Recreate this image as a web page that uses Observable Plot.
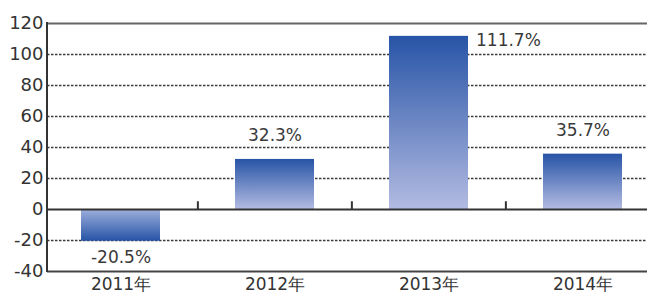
<!DOCTYPE html>
<html>
<head>
<meta charset="utf-8">
<script src="https://cdn.jsdelivr.net/npm/d3@7"></script>
<script src="https://cdn.jsdelivr.net/npm/@observablehq/plot@0.6"></script>
<style>
  html, body { margin: 0; padding: 0; background: #fff; }
  svg text { font-family: "DejaVu Sans", sans-serif; }
</style>
</head>
<body>
<div id="chart"></div>
<script>
const years = ["2011年", "2012年", "2013年", "2014年"];
const growth = [-20.5, 32.3, 111.7, 35.7];
const labels = ["-20.5%", "32.3%", "111.7%", "35.7%"];
const yTicks = [-40, -20, 0, 20, 40, 60, 80, 100, 120];
const dashedTicks = [-20, 20, 40, 60, 80, 100];

const data = years.map((y, i) => ({year: y, value: growth[i], label: labels[i]}));
const pos = data.filter(d => d.value >= 0);
const neg = data.filter(d => d.value < 0);

const defs = () => {
  const g = d3.create("svg:defs");
  const a = g.append("linearGradient").attr("id", "gpos").attr("x1", 0).attr("y1", 0).attr("x2", 0).attr("y2", 1);
  a.append("stop").attr("offset", "0%").attr("stop-color", "#2754a6");
  a.append("stop").attr("offset", "100%").attr("stop-color", "#b3bbe2");
  const b = g.append("linearGradient").attr("id", "gneg").attr("x1", 0).attr("y1", 0).attr("x2", 0).attr("y2", 1);
  b.append("stop").attr("offset", "0%").attr("stop-color", "#9eafdc");
  b.append("stop").attr("offset", "100%").attr("stop-color", "#2754a6");
  return g.node();
};

// left axis line, drawn from the y scale
const leftAxis = (index, scales, values, dimensions) => {
  const x = dimensions.marginLeft;
  return d3.create("svg:line")
    .attr("x1", x).attr("x2", x)
    .attr("y1", scales.y(120) - 1).attr("y2", scales.y(-40) + 1)
    .attr("stroke", "#333").attr("stroke-width", 2).node();
};

const step = (660 - 43) / 4;

const chart = Plot.plot({
  width: 647,
  height: 293,
  marginLeft: 47,
  marginRight: 0,
  marginTop: 23,
  marginBottom: 22,
  style: {fontFamily: "DejaVu Sans", color: "#333", background: "#fff"},
  x: {domain: years, range: [43, 660], paddingInner: 0.49, paddingOuter: 0.245, align: 0.5},
  y: {domain: [-40, 120]},
  marks: [
    defs,
    Plot.ruleY(dashedTicks, {stroke: "#3a3a3a", strokeWidth: 1.6, strokeDasharray: "2.5,1.5"}),
    Plot.ruleY([120], {stroke: "#666", strokeWidth: 2}),
    Plot.ruleY([-40], {stroke: "#444", strokeWidth: 2}),
    Plot.barY(pos, {x: "year", y: "value", fill: "url(#gpos)"}),
    Plot.barY(neg, {x: "year", y: "value", fill: "url(#gneg)"}),
    Plot.ruleY([0], {stroke: "#333", strokeWidth: 2}),
    Plot.ruleX(years.slice(1), {x: d => d, y1: 0, y2: 5, dx: -step / 2, stroke: "#333", strokeWidth: 2}),
    leftAxis,
    Plot.text(data.filter(d => d.year === "2012年" || d.year === "2014年"), {x: "year", y: "value", text: "label", dy: -24, fontSize: 17, fill: "#3a3a3a"}),
    Plot.text(data.filter(d => d.year === "2013年"), {x: "year", y: "value", text: "label", dx: 47, dy: 4, textAnchor: "start", fontSize: 17, fill: "#3a3a3a"}),
    Plot.text(neg, {x: "year", y: "value", text: "label", dy: 16, fontSize: 17, fill: "#3a3a3a"}),
    Plot.axisY({ticks: yTicks, tickSize: 0, tickPadding: 4, tickFormat: d => String(d), fontSize: 18, fill: "#333", label: null}),
    Plot.axisX({tickSize: 0, tickPadding: 6, fontSize: 17, fill: "#333", label: null})
  ]
});
document.getElementById("chart").appendChild(chart);
</script>
</body>
</html>
